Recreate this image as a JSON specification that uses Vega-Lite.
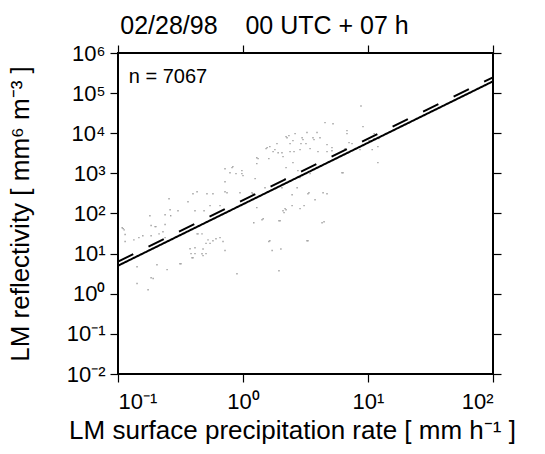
{
  "$schema": "https://vega.github.io/schema/vega-lite/v6.json",
  "width": 375,
  "height": 321,
  "autosize": {"type": "none"},
  "padding": {"left": 118, "top": 53, "right": 52, "bottom": 80},
  "background": "white",
  "config": {
    "font": "Liberation Sans",
    "view": {"stroke": "black", "strokeWidth": 2},
    "axis": {
      "domain": false,
      "grid": false,
      "ticks": true,
      "tickColor": "black",
      "tickSize": 8,
      "tickWidth": 1.2,
      "labelFont": "Liberation Sans",
      "labelFontSize": 22,
      "labelColor": "black",
      "titleFont": "Liberation Sans",
      "titleFontWeight": "normal",
      "titleColor": "black",
      "titleFontSize": 26
    }
  },
  "title": {
    "text": "02/28/98\u00a0\u00a0\u00a0\u00a000 UTC + 07 h",
    "fontSize": 25,
    "fontWeight": "normal",
    "font": "Liberation Sans",
    "anchor": "middle",
    "frame": "group",
    "dx": -41,
    "offset": -17,
    "baseline": "alphabetic",
    "color": "black"
  },
  "datasets": {
    "pts": [
      {"x":0.108,"y":44},{"x":0.114,"y":30},{"x":0.114,"y":20},{"x":0.134,"y":22},{"x":0.147,"y":25},{"x":0.158,"y":28},{"x":0.184,"y":50},{"x":0.201,"y":47},{"x":0.238,"y":53},{"x":0.184,"y":28},
      {"x":0.213,"y":31},{"x":0.238,"y":25},{"x":0.429,"y":31},{"x":0.47,"y":31},{"x":0.525,"y":22},{"x":0.575,"y":21},{"x":0.655,"y":25},{"x":0.692,"y":20},{"x":0.545,"y":18},{"x":0.506,"y":18},
      {"x":0.718,"y":12},{"x":0.479,"y":13},{"x":0.506,"y":10},{"x":0.479,"y":8.9},{"x":0.413,"y":10},{"x":0.384,"y":10},{"x":0.391,"y":7.9},{"x":0.319,"y":5.6},{"x":0.205,"y":5.3},{"x":0.247,"y":4.0},
      {"x":0.142,"y":4.7},{"x":0.184,"y":2.5},{"x":0.191,"y":2.4},{"x":0.142,"y":1.8},{"x":0.174,"y":1.26},{"x":0.895,"y":3.15},{"x":1.22,"y":59},{"x":1.25,"y":740},{"x":1.5,"y":440},{"x":1.2,"y":312},
      {"x":6.19,"y":1040},{"x":2.47,"y":294},{"x":3.37,"y":330},{"x":4.7,"y":312},{"x":2.47,"y":157},{"x":3.08,"y":157},{"x":3.77,"y":221},{"x":2.21,"y":124},{"x":2.13,"y":105},{"x":1.42,"y":70},
      {"x":1.94,"y":66},{"x":4.45,"y":62},{"x":1.61,"y":20},{"x":3.31,"y":21},{"x":1.71,"y":12},{"x":2.01,"y":13},{"x":1.94,"y":3.75},{"x":8.79,"y":47600},{"x":5.25,"y":17300},{"x":4.53,"y":18400},
      {"x":9.12,"y":14600},{"x":3.25,"y":10400},{"x":3.91,"y":10400},{"x":6.79,"y":11600},{"x":6.79,"y":9770},{"x":3.7,"y":6920},{"x":3.02,"y":6920},{"x":3.19,"y":5500},{"x":2.91,"y":5500},{"x":4.7,"y":5200},
      {"x":5.15,"y":4380},{"x":7.05,"y":5840},{"x":7.45,"y":5500},{"x":10.2,"y":6540},{"x":11.2,"y":9770},{"x":11.2,"y":7330},{"x":12,"y":4640},{"x":10.8,"y":3900},{"x":12.2,"y":7330},{"x":10.4,"y":6180},
      {"x":2.61,"y":9770},{"x":2.21,"y":8220},{"x":2.33,"y":8710},{"x":2.97,"y":7760},{"x":3.63,"y":7760},{"x":4.13,"y":7760},{"x":2.51,"y":6540},{"x":2.38,"y":5500},{"x":1.64,"y":4640},{"x":1.53,"y":4130},
      {"x":1.87,"y":5500},{"x":2.38,"y":3480},{"x":2.56,"y":3480},{"x":2.86,"y":3900},{"x":1.91,"y":3280},{"x":1.74,"y":3480},{"x":2.09,"y":2610},{"x":1.32,"y":2330},{"x":1.61,"y":2330},{"x":1.29,"y":1750},
      {"x":2.21,"y":1390},{"x":2.51,"y":1850},{"x":2.75,"y":1170},{"x":3.98,"y":3480},{"x":4.7,"y":3480},{"x":5.15,"y":3680},{"x":6.55,"y":4130},{"x":12,"y":1850},{"x":6.31,"y":1040},{"x":2.17,"y":132},
      {"x":0.98,"y":1170},{"x":0.83,"y":1470},{"x":0.98,"y":984},{"x":0.787,"y":1040},{"x":1.45,"y":74},{"x":1.18,"y":330},{"x":0.946,"y":330},{"x":1.29,"y":2460},{"x":0.718,"y":1310},{"x":0.817,"y":1390},
      {"x":0.879,"y":984},{"x":1.0,"y":877},{"x":0.718,"y":621},{"x":0.398,"y":312},{"x":0.429,"y":350},{"x":0.515,"y":312},{"x":0.718,"y":350},{"x":0.256,"y":234},{"x":0.363,"y":197},{"x":0.413,"y":117},
      {"x":0.488,"y":117},{"x":0.545,"y":157},{"x":0.655,"y":157},{"x":0.18,"y":88},{"x":0.238,"y":93},{"x":0.198,"y":47},{"x":0.112,"y":39},{"x":0.229,"y":35},{"x":0.261,"y":124},{"x":0.264,"y":88},
      {"x":0.302,"y":117},{"x":0.437,"y":31},{"x":0.608,"y":23.5},{"x":0.377,"y":13.2},{"x":0.413,"y":14},{"x":0.398,"y":7.9},{"x":0.47,"y":9.95},{"x":0.313,"y":5.6},{"x":0.575,"y":312},{"x":0.745,"y":330},
      {"x":1.56,"y":4380},{"x":1.8,"y":3900},{"x":2.25,"y":7760},{"x":3.44,"y":4130},{"x":2.05,"y":3280},{"x":2.17,"y":738},{"x":2.05,"y":440},{"x":2.71,"y":440},{"x":3.31,"y":312},{"x":4.37,"y":330},
      {"x":8.63,"y":3900},{"x":3.44,"y":984},{"x":2.86,"y":782},{"x":2.09,"y":117},{"x":2.86,"y":132},{"x":4.29,"y":59},{"x":1.29,"y":140},{"x":1.64,"y":21},{"x":3.25,"y":21},{"x":1.98,"y":66},
      {"x":0.11,"y":42}
    ],
    "lines": [
      {"x":0.1,"y":5.0,"kind":"solid"},{"x":100,"y":197000,"kind":"solid"},
      {"x":0.1,"y":6.3,"kind":"dashed"},{"x":100,"y":248000,"kind":"dashed"}
    ]
  },
  "layer": [
    {
      "data": {"name": "pts"},
      "mark": {"type": "square", "size": 2, "color": "#a0a0a0", "opacity": 1},
      "encoding": {
        "x": {"field": "x", "type": "quantitative",
          "scale": {"type": "log", "domain": [0.1, 100], "nice": false},
          "axis": {"orient": "bottom", "values": [0.1, 1, 10, 100],
            "labelExpr": "'10' + ['⁻²','⁻¹','⁰','¹','²','³','⁴','⁵','⁶'][round(log(datum.value)/LN10)+2]",
            "title": "LM surface precipitation rate [ mm h⁻¹ ]", "labelPadding": 9, "titlePadding": 5, "titleX": 174}},
        "y": {"field": "y", "type": "quantitative",
          "scale": {"type": "log", "domain": [0.01, 1000000], "nice": false},
          "axis": {"orient": "left", "values": [0.01, 0.1, 1, 10, 100, 1000, 10000, 100000, 1000000],
            "labelExpr": "'10' + ['⁻²','⁻¹','⁰','¹','²','³','⁴','⁵','⁶'][round(log(datum.value)/LN10)+2]",
            "title": "LM reflectivity [ mm⁶ m⁻³ ]", "labelPadding": 5, "titlePadding": 33}}
      }
    },
    {
      "data": {"name": "lines"},
      "mark": {"type": "line", "color": "black", "strokeWidth": 2},
      "encoding": {
        "x": {"field": "x", "type": "quantitative",
          "scale": {"type": "log", "domain": [0.1, 100], "nice": false},
          "axis": {"orient": "top", "values": [0.1, 1, 10, 100], "labels": false, "title": null}},
        "y": {"field": "y", "type": "quantitative",
          "scale": {"type": "log", "domain": [0.01, 1000000], "nice": false},
          "axis": {"orient": "right", "values": [0.01, 0.1, 1, 10, 100, 1000, 10000, 100000, 1000000], "labels": false, "title": null}},
        "strokeDash": {"field": "kind", "type": "nominal",
          "scale": {"domain": ["solid", "dashed"], "range": [[1, 0], [17, 17]]}, "legend": null}
      }
    },
    {
      "data": {"values": [{"x": 0.122, "y": 180000, "t": "n = 7067"}]},
      "mark": {"type": "text", "align": "left", "baseline": "alphabetic", "fontSize": 20, "font": "Liberation Sans", "color": "black"},
      "encoding": {
        "x": {"field": "x", "type": "quantitative", "scale": {"type": "log", "domain": [0.1, 100], "nice": false}, "axis": null},
        "y": {"field": "y", "type": "quantitative", "scale": {"type": "log", "domain": [0.01, 1000000], "nice": false}, "axis": null},
        "text": {"field": "t"}
      }
    }
  ],
  "resolve": {"axis": {"x": "independent", "y": "independent"}}
}
